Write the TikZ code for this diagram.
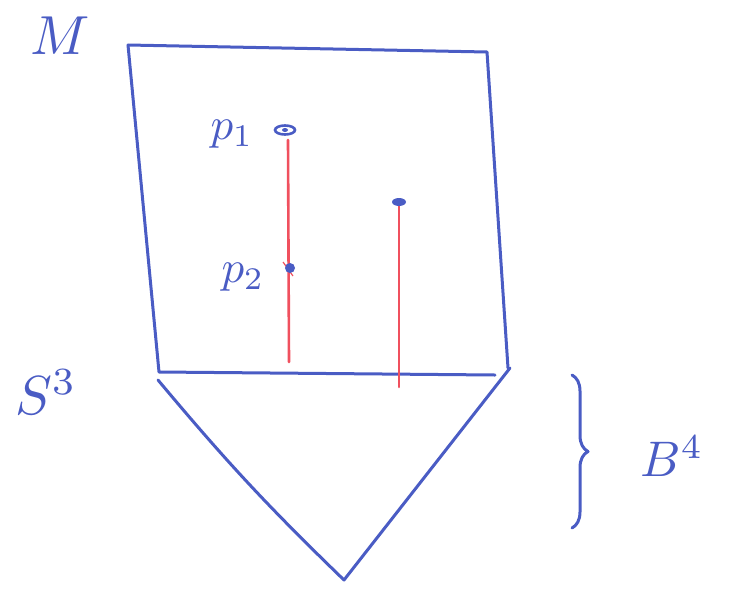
\documentclass[tikz,border=0pt]{standalone}
\usetikzlibrary{decorations.pathreplacing}
\definecolor{penblue}{HTML}{4A5CC4}
\definecolor{penred}{HTML}{F0505E}
\begin{document}
\begin{tikzpicture}[x=1pt,y=-1pt,
  bline/.style={draw=penblue,line width=3pt,line cap=round,line join=round},
  rline/.style={draw=penred,line width=2.6pt,line cap=round},
  lbl/.style={text=penblue,inner sep=0pt}]
\useasboundingbox (0,0) rectangle (744,592);
% square corners
\coordinate (tl) at (128,45);
\coordinate (tr) at (487,52);
\coordinate (br) at (508,368);
\coordinate (bl) at (159,372);
\coordinate (be) at (495,375);
\draw[bline] (tl) -- (tr) -- (br);
\draw[bline] (tl) -- (bl) -- (be);
% triangle
\coordinate (ta) at (158,380);
\coordinate (tb) at (344,580);
\coordinate (tc) at (510,368);
\draw[bline] (ta) to[bend right=3] (tb) -- (tc);
% points and red lines
\coordinate (p1) at (285,130);
\coordinate (p1e) at (289,362);
\coordinate (p2) at (290,268);
\coordinate (q) at (399,202);
\coordinate (qe) at (399,387);
\draw[rline] (288,140) -- (p1e);
\draw[rline] (q) -- (qe);
\draw[penred,line width=1.2pt] (283,262) -- (293,276);
\draw[penblue,line width=2.6pt] (p1) ellipse [x radius=10pt, y radius=4.5pt];
\fill[penblue] (p1) ellipse [x radius=3pt, y radius=2pt];
\fill[penblue] (p2) ellipse [x radius=5pt, y radius=5pt];
\fill[penblue] (q) ellipse [x radius=7pt, y radius=4pt];
% labels
\node[lbl,scale=5.5] (m) at (60,36) {$M$};
\node[lbl,scale=4.5] (lp1) at (232,134) {$p_1$};
\node[lbl,scale=4.5] (lp2) at (243,277) {$p_2$};
\node[lbl,scale=5.5] (s3) at (46,392) {$S^3$};
\node[lbl,scale=5] (b4) at (672,456) {$B^4$};
% brace
\coordinate (bt) at (572,375);
\coordinate (bb) at (572,528);
\draw[bline,decorate,decoration={brace,amplitude=16pt}] (bt) -- (bb);
\end{tikzpicture}
\end{document}
